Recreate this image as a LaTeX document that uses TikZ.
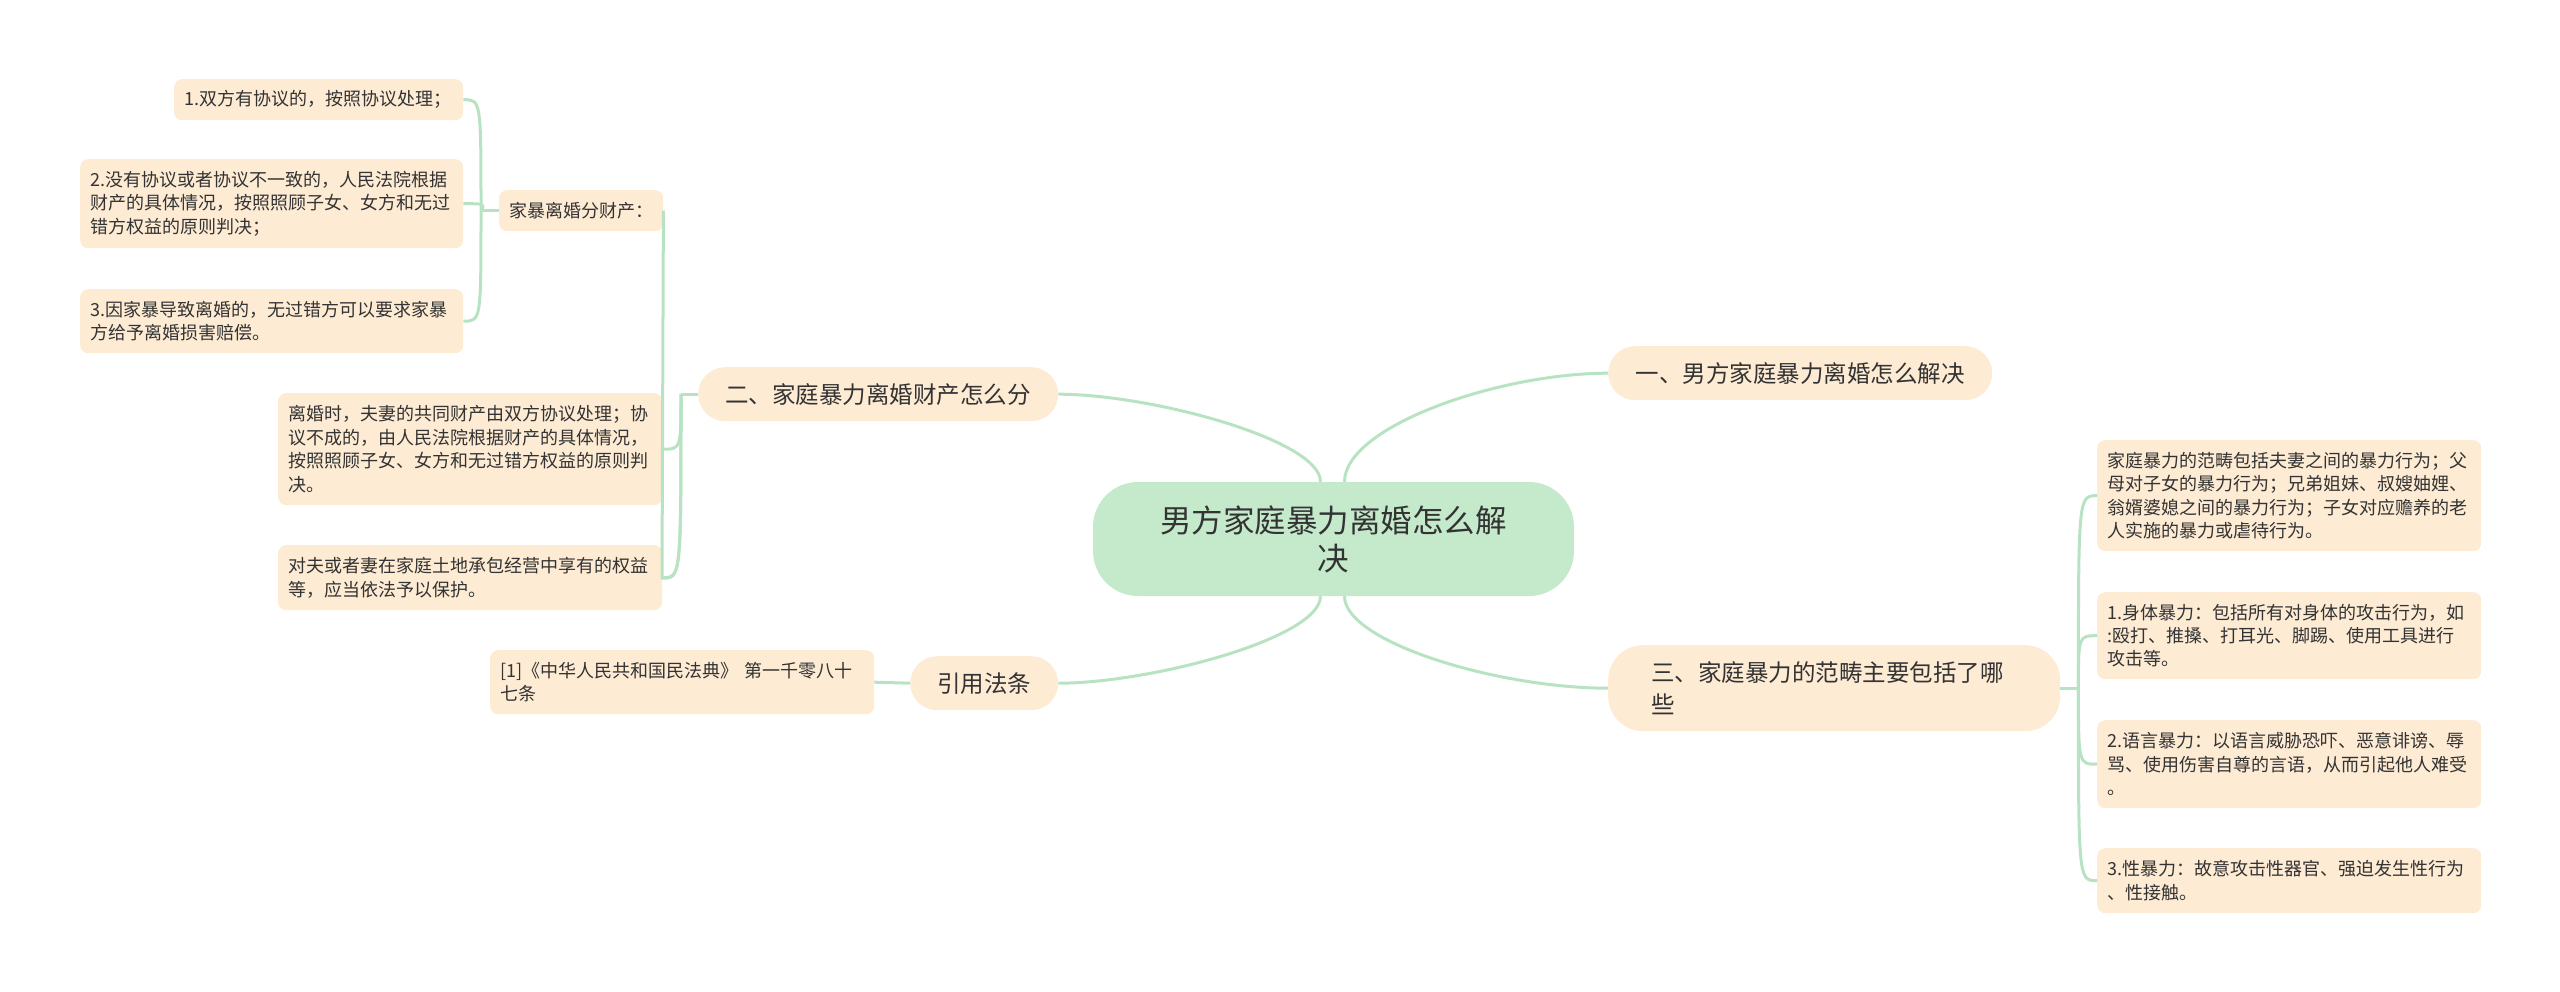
\documentclass[tikz,border=0pt]{standalone}
\usepackage{fontspec}
\setmainfont{Noto Sans CJK SC}
\definecolor{peach}{HTML}{FDEBD4}
\definecolor{rootfill}{HTML}{C5EACB}
\definecolor{linec}{HTML}{B8E3C2}
\definecolor{textc}{HTML}{333333}
\tikzset{
  leaf/.style={fill=peach, draw=none, rounded corners=8pt, inner xsep=10pt, inner ysep=0pt,
    align=left, text=textc, anchor=north west, font=\fontsize{18}{23.4}\selectfont},
  branch/.style={fill=peach, draw=none, rounded corners=27pt, inner sep=0pt,
    align=center, text=textc, anchor=north west, minimum height=54pt, font=\fontsize{23.5}{32}\selectfont},
  conn/.style={draw=linec, line width=3pt},
}
\begin{document}
\begin{tikzpicture}[x=1pt, y=-1pt]
\useasboundingbox (0,0) rectangle (2560,992);
% root
\node[fill=rootfill, draw=none, rounded corners=45pt, minimum width=481pt, minimum height=114pt,
  inner sep=0pt, align=center, text=textc, font=\fontsize{31.5}{38}\selectfont] (root) at (1333.5,539) {男方家庭暴力离婚怎么解\\决};
% branches
\node[branch, minimum width=384pt] (b1) at (1608,346) {一、男方家庭暴力离婚怎么解决};
\node[branch, minimum width=360pt] (b2) at (698,367) {二、家庭暴力离婚财产怎么分};
\node[branch, minimum height=86pt, rounded corners=35pt, inner xsep=43pt, text width=366pt, align=left] (b3) at (1608,645) {三、家庭暴力的范畴主要包括了哪\\些};
\node[branch, minimum width=148pt] (law) at (910,656) {引用法条};
% branch 2 children
\node[leaf, minimum height=41pt] (sub) at (499,190) {家暴离婚分财产：};
\node[leaf, text width=269pt, minimum height=41pt] (l1) at (174,79) {1.双方有协议的，按照协议处理；};
\node[leaf, text width=363pt, minimum height=89pt] (l2) at (80,159) {2.没有协议或者协议不一致的，人民法院根据\\财产的具体情况，按照照顾子女、女方和无过\\错方权益的原则判决；};
\node[leaf, text width=363pt, minimum height=64pt] (l3) at (80,289) {3.因家暴导致离婚的，无过错方可以要求家暴\\方给予离婚损害赔偿。};
\node[leaf, text width=364pt, minimum height=112pt] (l4) at (278,393) {离婚时，夫妻的共同财产由双方协议处理；协\\议不成的，由人民法院根据财产的具体情况，\\按照照顾子女、女方和无过错方权益的原则判\\决。};
\node[leaf, text width=364pt, minimum height=65pt] (l5) at (278,545) {对夫或者妻在家庭土地承包经营中享有的权益\\等，应当依法予以保护。};
% law child
\node[leaf, text width=364pt, minimum height=64pt] (ref) at (490,650) {[1]《中华人民共和国民法典》 第一千零八十\\七条};
% branch 3 children
\node[leaf, text width=364pt, minimum height=111pt] (ra) at (2097,440) {家庭暴力的范畴包括夫妻之间的暴力行为；父\\母对子女的暴力行为；兄弟姐妹、叔嫂妯娌、\\翁婿婆媳之间的暴力行为；子女对应赡养的老\\人实施的暴力或虐待行为。};
\node[leaf, text width=364pt, minimum height=87pt] (rb) at (2097,592) {1.身体暴力：包括所有对身体的攻击行为，如\\:殴打、推搡、打耳光、脚踢、使用工具进行\\攻击等。};
\node[leaf, text width=364pt, minimum height=88pt] (rc) at (2097,720) {2.语言暴力：以语言威胁恐吓、恶意诽谤、辱\\骂、使用伤害自尊的言语，从而引起他人难受\\。};
\node[leaf, text width=364pt, minimum height=65pt] (rd) at (2097,848) {3.性暴力：故意攻击性器官、强迫发生性行为\\、性接触。};
% root connectors
\draw[conn] ([xshift=11pt]root.north) .. controls +(0,-55) and +(-110,0) .. (b1.west);
\draw[conn] ([xshift=-13pt]root.north) .. controls +(0,-42) and +(92,0) .. (b2.east);
\draw[conn] ([xshift=-13pt]root.south) .. controls +(0,42) and +(92,0) .. (law.east);
\draw[conn] ([xshift=11pt]root.south) .. controls +(0,46) and +(-110,0) .. (b3.west);
% branch 2 bracket
\coordinate (j2) at ([xshift=-17pt]b2.west);
\draw[conn] (b2.west) -- (j2);
\draw[conn] (j2) .. controls ([yshift=-184pt]j2) and ([yshift=-184pt]j2) .. ([yshift=-184pt, xshift=-19pt]j2) -- (sub.east);
\draw[conn] (j2) .. controls (j2 |- l4.east) and (j2 |- l4.east) .. (l4.east);
\draw[conn] (j2) .. controls (j2 |- l5.east) and (j2 |- l5.east) .. (l5.east);
% sub bracket
\coordinate (js) at ([xshift=-18pt]sub.west);
\draw[conn] (sub.west) -- (js);
\draw[conn] (js) .. controls (js |- l1.east) and (js |- l1.east) .. (l1.east);
\draw[conn] (js) .. controls ([xshift=4pt]js |- l2.east) and ([xshift=4pt]js |- l2.east) .. (l2.east);
\draw[conn] (js) .. controls (js |- l3.east) and (js |- l3.east) .. (l3.east);
% law
\draw[conn] (law.west) -- (ref.east);
% branch 3 bracket
\coordinate (j3) at ([xshift=18pt]b3.east);
\draw[conn] (b3.east) -- (j3);
\draw[conn] (j3) .. controls (j3 |- ra.west) and (j3 |- ra.west) .. (ra.west);
\draw[conn] (j3) .. controls (j3 |- rb.west) and (j3 |- rb.west) .. (rb.west);
\draw[conn] (j3) .. controls (j3 |- rc.west) and (j3 |- rc.west) .. (rc.west);
\draw[conn] (j3) .. controls (j3 |- rd.west) and (j3 |- rd.west) .. (rd.west);
\end{tikzpicture}
\end{document}
